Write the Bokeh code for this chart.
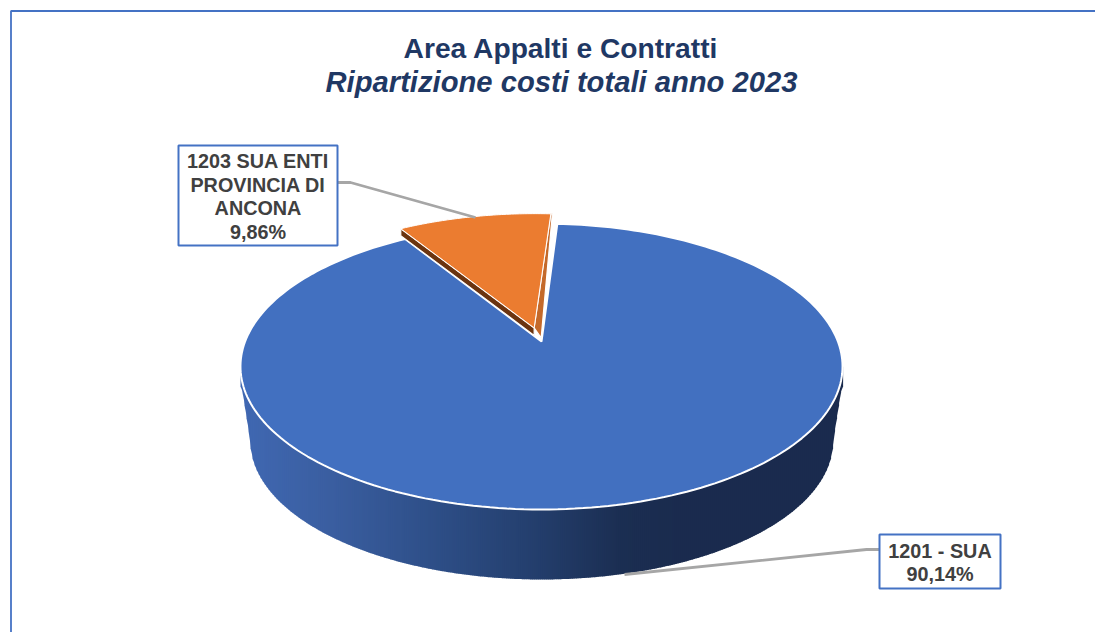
import numpy as np
from bokeh.core.properties import value
from bokeh.embed import file_html
from bokeh.plotting import figure
from bokeh.resources import INLINE

# Share of total cost per cost centre
categories = ["1201 - SUA", "1203 SUA ENTI PROVINCIA DI ANCONA"]
shares = [90.14, 9.86]
label_lines = [["1201 - SUA"], ["1203 SUA ENTI", "PROVINCIA DI", "ANCONA"]]
title_lines = ["Area Appalti e Contratti", "Ripartizione costi totali anno 2023"]

FONT = value("Liberation Sans")
NAVY = "#1F3864"
FRAME = "#4472C4"
BLUE = "#4270C0"
ORANGE = "#EB7C30"

# Perspective projection of the pie's disc onto the page
CX, CY = 541.0, 341.0
A, B, K = 296.4, 138.6, 0.1748
START_DEG = 3.6
EXPLODE = 0.103


def project(u, v, scale=1.0, dy=0.0):
    w = 1 + K * v
    return CX + scale * A * u / w, CY + dy - scale * B * v / w


def rim(t0, t1, n=240):
    t = np.radians(np.linspace(t0, t1, n))
    return np.sin(t), np.cos(t)


p = figure(width=1095, height=632, x_range=(0, 1095), y_range=(632, 0),
           x_axis_type=None, y_axis_type=None, output_backend="svg",
           toolbar_location=None, min_border=0, outline_line_color=None,
           background_fill_color="white", border_fill_color="white")
p.grid.visible = False

# Chart area border, running off the page on the right and bottom
p.line([10.5, 10.5, 1095], [632, 10.5, 10.5], line_color=FRAME, line_width=1.8)

sweep_main = shares[0] / sum(shares) * 360
sweep_other = shares[1] / sum(shares) * 360

# Extruded side of the large slice, shaded left to right with thin strips.
# Only the front half of each rim is used, from widest point to widest point.
widest = np.degrees(np.arccos(-K))
lu, lv = rim(widest, 360 - widest)
top_x, top_y = project(lu, lv)
bot_x, bot_y = project(lu, lv, scale=0.968, dy=75.4)
order_top, order_bot = np.argsort(top_x), np.argsort(bot_x)
xs = np.arange(240.0, 843.0, 2.0)
upper = np.interp(xs, top_x[order_top], top_y[order_top])
edge_x = np.r_[241.0, bot_x[order_bot], 841.0]
edge_y = np.r_[386.0, bot_y[order_bot], 386.0]
lower = np.interp(xs, edge_x, edge_y)
stops_x = [240, 330, 430, 530, 620, 680, 842]
stops = np.array([[64, 104, 178], [58, 94, 160], [46, 79, 136], [36, 63, 110],
                  [27, 46, 82], [26, 43, 78], [26, 43, 78]], dtype=float)
strip_colors = []
strip_xs, strip_ys = [], []
for i, x in enumerate(xs[:-1]):
    c = [int(round(np.interp(x, stops_x, stops[:, j]))) for j in range(3)]
    strip_colors.append("#%02x%02x%02x" % tuple(c))
    x1 = xs[i + 1] + 0.6
    strip_xs.append([x, x1, x1, x])
    strip_ys.append([upper[i] - 2, upper[i + 1] - 2, lower[i + 1], lower[i]])
p.patches(strip_xs, strip_ys, fill_color=strip_colors, line_color=None)

# Top face of the large slice
u, v = rim(START_DEG, START_DEG + sweep_main)
mx, my = project(u, v)
p.patch(np.r_[CX, mx, CX], np.r_[CY, my, CY], fill_color=BLUE,
        line_color="white", line_width=2)

# Pulled-out slice: two inner faces, then its top face
t0 = START_DEG - sweep_other
mid = np.radians(t0 + sweep_other / 2)
eu, ev = EXPLODE * np.sin(mid), EXPLODE * np.cos(mid)
ou, ov = rim(t0, START_DEG, 60)
ox, oy = project(ou + eu, ov + ev)
ax, ay = project(np.array([eu]), np.array([ev]))
ax, ay = float(ax[0]), float(ay[0])
p.patch([ox[0], ax, ax, ox[0]], [oy[0], ay, ay + 7.5, oy[0] + 7],
        fill_color="#6B3410", line_color="white", line_width=1.2)
p.patch([ox[-1], ax, ax + 7, ox[-1] + 1.5], [oy[-1], ay, ay + 10, oy[-1]],
        fill_color="#C4692A", line_color="white", line_width=1.2)
p.patch(np.r_[ax, ox, ax], np.r_[ay, oy, ay], fill_color=ORANGE,
        line_color="white", line_width=1.0)

# Leader lines
p.line([624, 866, 879], [574, 549, 549], line_color="#A6A6A6", line_width=2.8)
p.line([337, 350, 475], [182, 182, 217], line_color="#A6A6A6", line_width=2.8)

# Data label boxes
boxes = [(879, 1000, 534, 588), (178, 337, 145, 245)]
for (x0, x1, y0, y1), lines, share in zip(boxes, label_lines, shares):
    p.quad(left=[x0], right=[x1], top=[y0], bottom=[y1], fill_color="white",
           line_color=FRAME, line_width=2)
    rows = lines + [f"{share:.2f}%".replace(".", ",")]
    ym = (y0 + y1) / 2 + 1
    ys = [ym + (i - (len(rows) - 1) / 2) * 23.4 for i in range(len(rows))]
    p.text([(x0 + x1) / 2] * len(rows), ys, text=rows, text_font=FONT,
           text_font_size="19.8px", text_font_style="bold", text_color="#404040",
           text_align="center", text_baseline="middle")

# Two-line title
p.text([560.5], [47], text=[title_lines[0]], text_font=FONT, text_font_size="28.2px",
       text_font_style="bold", text_color=NAVY, text_align="center",
       text_baseline="middle")
p.text([561], [81], text=[title_lines[1]], text_font=FONT, text_font_size="29.2px",
       text_font_style="bold italic", text_color=NAVY, text_align="center",
       text_baseline="middle")

open("out.html", "w").write(file_html(p, INLINE))
